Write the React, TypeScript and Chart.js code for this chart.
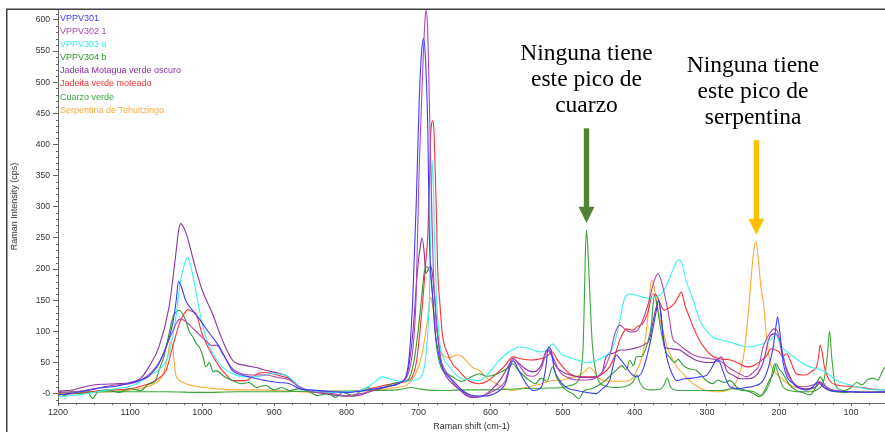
import React, { useEffect, useRef } from 'react';
import { Chart, registerables } from 'chart.js';

Chart.register(...registerables);

// ---------- DATA ----------
const seriesLabels = [
  'VPPV301',
  'VPPV302 1',
  'VPPV303 a',
  'VPPV304 b',
  'Jadeita Motagua verde oscuro',
  'Jadeita verde moteado',
  'Cuarzo verde',
  'Serpentina de Tehuitzingo',
];

const seriesColors = ['#3c3cff', '#b048b0', '#3cf0f0', '#2f9a2f', '#9030a8', '#ff3030', '#3aa83a', '#ffa838'];

// [Raman shift (cm-1), intensity (cps)]
const vppv301 = [
  [1200, -2], [1185, 0], [1170, 3], [1155, 6], [1143, 9], [1120, 12], [1097, 18], [1085, 22], [1074, 28], [1066, 38], [1060, 48], [1050, 75], [1041, 112], [1036, 150], [1033, 180], [1029, 172], [1023, 150], [1013, 133], [1004, 120], [995, 105], [986, 91], [976, 75], [967, 55], [958, 37], [945, 30], [935, 27], [912, 21], [895, 18], [879, 16], [865, 8], [850, 6], [820, 3], [800, 2], [780, 4], [760, 8], [740, 12], [725, 18], [715, 40], [708, 150], [703, 311], [699, 471], [696, 545], [693, 570], [690, 530], [687, 418], [685, 257], [680, 150], [677, 100], [673, 70], [668, 45], [662, 32], [650, 18], [639, 5], [625, -3], [610, -4], [595, 0], [580, 15], [569, 53], [560, 35], [550, 15], [541, 5], [530, 10], [523, 45], [520, 75], [516, 70], [512, 40], [504, 21], [495, 10], [481, 5], [467, 2], [454, 0], [445, 8], [435, 21], [430, 45], [426, 62], [420, 55], [412, 43], [405, 32], [398, 27], [390, 35], [380, 75], [374, 110], [370, 134], [367, 150], [364, 130], [361, 96], [356, 60], [352, 43], [342, 21], [331, 24], [320, 25], [310, 27], [301, 29], [294, 40], [287, 53], [282, 50], [278, 37], [268, 11], [257, 8], [246, 10], [235, 12], [222, 21], [214, 45], [208, 75], [204, 110], [202, 123], [199, 100], [194, 48], [188, 25], [180, 16], [170, 8], [162, 6], [154, 10], [146, 19], [140, 12], [131, 6], [120, 4], [100, 3], [80, 2], [53, 3],
];

const vppv302 = [
  [1200, 2], [1180, 3], [1160, 6], [1140, 10], [1120, 14], [1100, 16], [1085, 22], [1070, 35], [1060, 50], [1050, 75], [1041, 100], [1035, 115], [1030, 120], [1022, 115], [1013, 105], [1004, 95], [995, 85], [986, 77], [980, 78], [972, 65], [958, 40], [945, 32], [930, 30], [912, 30], [895, 26], [879, 22], [865, 10], [850, 4], [820, 0], [800, -3], [780, 0], [760, 6], [740, 12], [725, 18], [715, 30], [708, 70], [703.5, 150], [699, 364], [694, 525], [691, 600], [689.5, 615], [687.5, 590], [686, 525], [683, 364], [679.6, 203], [676, 123], [672, 80], [669, 54], [663, 38], [657, 27], [650, 15], [639, 3], [625, -5], [610, -3], [595, 5], [580, 20], [569, 57], [560, 45], [550, 30], [541, 28], [530, 40], [520, 72], [514, 60], [504, 35], [495, 27], [481, 22], [467, 22], [454, 25], [445, 35], [435, 60], [428, 95], [421, 110], [414, 104], [407, 99], [398, 100], [390, 115], [380, 150], [374, 178], [368, 193], [363, 180], [357, 150], [352, 120], [348, 91], [340, 80], [329, 70], [320, 63], [310, 59], [295, 56], [282, 53], [273, 45], [264, 37.5], [255, 32], [245, 27], [235, 35], [228, 45], [222, 75], [214, 95], [206, 104], [202, 100], [199, 86], [194, 60], [190, 37.5], [182, 20], [171, 11], [160, 12], [150, 15], [143, 19], [138, 14], [130, 8], [118, 4], [100, 3], [75, 2], [53, 3],
];

const vppv303 = [
  [1200, -5], [1180, -3], [1160, 0], [1140, 4], [1120, 8], [1100, 12], [1085, 20], [1074, 30], [1060, 38], [1046, 64], [1037, 118], [1030, 182], [1024, 210], [1020.5, 219], [1016, 205], [1009, 166], [1000, 112], [990, 75], [976, 48], [958, 32], [935, 27], [920, 28], [903, 32], [885, 30], [875, 22], [865, 11], [850, 5], [820, 2], [800, 3], [780, 5], [765, 15], [750, 27], [735, 22], [720, 20], [705, 22], [695, 30], [690, 60], [685, 150], [683, 257], [681, 375], [679.5, 340], [678, 257], [675, 150], [672, 100], [669, 70], [663, 52], [657, 43], [648, 30], [639, 24], [625, 22], [616, 21], [605, 30], [592, 48], [580, 62], [570, 70], [560, 75], [545, 72], [532, 67], [520, 72], [514, 80], [508, 72], [500, 62], [490, 58], [477, 53], [466, 50], [454, 53], [442, 60], [430, 75], [422, 110], [415, 150], [412, 158], [405, 160], [398, 158], [390, 155], [380, 153], [370, 155], [361, 163], [352, 185], [345, 205], [340, 215], [335, 210], [329, 182], [319, 150], [310, 118], [300, 100], [292, 91], [280, 86], [268, 83], [255, 78], [245, 75], [235, 76], [222, 80], [210, 88], [205, 95], [200, 85], [196, 75], [186, 65], [176, 56], [166, 48], [157.5, 43], [148, 40], [139, 37], [130, 30], [120, 21], [105, 15], [93, 11], [80, 8], [65, 6], [53, 6],
];

const vppv304 = [
  [1200, 2], [1190, -3], [1180, 4], [1170, 0], [1160, 5], [1152, -8], [1145, 3], [1130, 6], [1115, 2], [1100, 8], [1085, 5], [1075, 15], [1065, 20], [1060, 37], [1053, 60], [1046, 96], [1040, 125], [1035, 132], [1032, 134], [1027, 128], [1023, 118], [1018, 100], [1013, 91], [1008, 80], [1004, 75], [999, 60], [995, 43], [990, 50], [985, 35], [981, 37], [970, 28], [958, 21], [945, 16], [935, 18], [925, 10], [912, 13], [900, 6], [890, 10], [879, 5], [865, 8], [850, 2], [840, -3], [825, 0], [815, -6], [805, 2], [790, -4], [780, 5], [770, 10], [760, 5], [745, 12], [730, 18], [715, 22], [706, 54], [701, 96], [696, 150], [692, 195], [689, 204], [686, 200], [683, 190], [680, 150], [676, 86], [669, 43], [660, 32], [653, 27], [640, 20], [625, 28], [616, 32], [605, 28], [595, 30], [585, 35], [575, 42], [569, 48], [562, 38], [555, 30], [546, 21], [538, 16], [530, 25], [522, 20], [514, 43], [508, 25], [500, 11], [493, 4], [486, 0], [478, -8], [470, 5], [460, 8], [447, 16], [440, 22], [433, 30], [426, 37.5], [418, 45], [412, 38], [407, 53.6], [402, 45], [398, 59], [390, 60], [384, 75], [377, 110], [373, 158], [369, 140], [365, 110], [361, 86], [356, 65], [352, 59], [345, 50], [340, 55], [333, 45], [325, 40], [315, 37.5], [308, 30], [301, 21], [292, 16], [285, 22], [276, 18], [268, 21], [258, 10], [245, 5], [235, 0], [227, -5], [220, 5], [214, 20], [208, 32], [204, 48], [200, 40], [194.5, 32], [186, 15], [176, 5], [167, 2], [157, -2], [150, 8], [143, 27], [137, 15], [130, 5], [120, 3], [110, 2], [100, 3], [80, 2], [53, 3],
];

const jadeitaMotagua = [
  [1200, 4], [1180, 6], [1160, 12], [1140, 15], [1120, 16], [1100, 18], [1085, 25], [1074, 43], [1060, 75], [1046, 139], [1037, 220], [1033, 260], [1030, 273], [1025, 265], [1020, 249], [1011, 209], [1000, 166], [986, 129], [972, 86], [958, 54], [939, 45], [925, 42], [912, 37.5], [895, 33], [884, 29], [875, 20], [865, 11], [850, 4], [830, 0], [800, -4], [780, -2], [760, 6], [740, 12], [725, 18], [715, 35], [708, 96], [701, 203], [697, 240], [695, 250], [692, 225], [690, 193], [687, 198], [685, 203], [683, 205], [681, 195], [678, 161], [673.5, 96], [667, 43], [660, 25], [653, 16], [645, 8], [634, -3], [625, -6], [612, -4], [600, 5], [585, 25], [575, 45], [569, 56], [562, 50], [552, 40], [541, 35], [530, 45], [522, 70], [517, 65], [510, 45], [500, 35], [490, 30], [477, 27], [465, 26], [454, 27], [445, 35], [440, 59], [430, 65], [420, 70], [412, 70], [404, 72], [394, 75], [385, 80], [380, 86], [374, 120], [370, 140], [367, 150], [363, 120], [359, 75], [350, 72], [338, 70], [325, 60], [315, 53.6], [300, 50], [292, 50], [285, 55], [280, 59], [275, 45], [273, 37.5], [264, 30], [254, 24], [242, 24], [231, 30], [222, 50], [213, 91], [207, 96], [204, 96], [200, 86], [194.5, 59], [186, 30], [176, 11], [165, 8], [150, 10], [143, 17], [137, 10], [128, 5], [118, 3], [100, 3], [80, 2], [53, 2],
];

const jadeitaMoteado = [
  [1200, -2], [1180, 0], [1160, 2], [1140, 5], [1120, 6], [1100, 8], [1085, 12], [1070, 18], [1060, 25], [1050, 37.5], [1041, 75], [1030, 118], [1024, 130], [1020, 135], [1014, 132], [1009, 129], [1000, 96], [990, 70], [976, 43], [965, 28], [958, 21], [940, 21], [930, 27], [921, 33], [912, 34], [903, 32], [890, 28], [879, 24], [870, 16], [865, 11], [850, 5], [820, 3], [800, 3], [780, 5], [760, 10], [740, 15], [725, 18], [712, 22], [703, 50], [698, 100], [694, 150], [690, 210], [687, 257], [685, 330], [683, 418], [680, 438], [678.5, 420], [677, 364], [675, 280], [673.5, 203], [670, 140], [667, 96], [660, 65], [653, 48], [645, 38], [639, 30], [629, 20], [616, 16], [605, 20], [592, 32], [580, 45], [569, 59], [558, 56], [545, 54], [535, 55], [523, 59], [514, 67], [508, 55], [500, 43], [490, 32], [477, 27], [465, 27], [454, 27], [445, 32], [435, 43], [428, 60], [421, 86], [415, 100], [412, 104], [403, 102], [396, 108], [389, 112.5], [382, 130], [375, 160], [370, 158], [365, 145], [359, 134], [352, 138], [345, 145], [340, 155], [335.6, 163], [330, 140], [325, 125], [319, 107], [310, 85], [301, 70], [292, 60], [282, 56], [273, 55], [264, 53], [255, 48], [245, 43], [235, 45], [227, 51], [218, 60], [211, 72], [205, 70], [200, 67], [195, 60], [189, 64], [185, 55], [176, 32], [168, 30], [162, 30], [155, 36], [148, 43], [145, 60], [143, 78], [140, 65], [137, 43], [130, 21], [120, 14], [105, 12], [93, 11], [80, 9], [65, 7], [53, 6],
];

const cuarzoVerde = [
  [1200, 2], [1150, 3], [1100, 3], [1050, 3], [1000, 2], [950, 3], [900, 3], [850, 4], [800, 4], [760, 5], [730, 6], [710, 10], [700, 8], [690, 6], [670, 5], [640, 6], [600, 6], [560, 8], [520, 9], [500, 10], [490, 13], [479, 20], [474, 40], [471.5, 80], [470, 150], [468.5, 230], [467, 262], [465, 230], [462, 150], [459, 80], [455, 40], [450, 20], [440, 12], [425, 10], [412, 12], [403, 18], [397, 30], [393, 18], [386, 8], [375, 6], [365, 7], [359, 15], [355, 25], [351, 12], [345, 6], [330, 5], [300, 5], [280, 5], [265, 8], [250, 5], [235, 3], [225, -3], [218, 5], [212, 20], [206, 48], [202, 35], [195, 12], [185, 5], [170, 3], [155, 3], [145, 8], [138, 20], [133, 60], [130, 100], [127, 60], [123, 20], [118, 8], [110, 5], [100, 10], [92, 18], [85, 14], [78, 22], [70, 25], [63, 22], [57, 35], [53, 43],
];

const serpentina = [
  [1200, 0], [1180, 0], [1150, 2], [1120, 4], [1100, 6], [1080, 10], [1070, 14], [1060, 21], [1053, 35], [1048, 60], [1044, 83], [1041, 75], [1037, 32], [1030, 20], [1023, 16], [1004, 11], [980, 8], [958, 6], [920, 6], [900, 5], [865, 3], [840, 2], [800, 3], [760, 6], [730, 10], [715, 15], [705, 30], [698, 50], [694, 70], [690, 100], [687, 123], [685, 145], [683, 155], [681, 145], [678, 123], [674, 95], [671, 75], [666, 62], [662, 59], [655, 58], [648, 62], [640, 60], [634, 53], [625, 42], [616, 37.5], [605, 25], [592, 16], [580, 8], [569, 5], [558, 8], [546, 11], [530, 16], [514, 21], [500, 22], [490, 25], [480, 28], [470, 35], [463, 42], [458, 38], [452, 28], [444, 21], [430, 20], [415, 20], [407, 21], [398, 35], [389, 64], [383, 110], [380, 150], [377, 182], [374, 175], [370, 150], [366, 125], [361, 102], [355, 75], [347, 53.6], [338, 38], [329, 27], [318, 15], [301, 5], [282, 3], [272, 5], [264, 11], [257, 25], [250, 53.6], [245, 100], [241, 150], [236, 220], [232, 245], [229, 220], [225, 170], [222, 150], [218, 100], [213, 53.6], [206, 35], [199, 27], [190, 18], [181, 12], [170, 8], [162, 6], [150, 10], [143, 19], [138, 10], [130, 5], [110, 3], [80, 3], [53, 3],
];

const seriesData = [vppv301, vppv302, vppv303, vppv304, jadeitaMotagua, jadeitaMoteado, cuarzoVerde, serpentina];

const xTickStep = 100;
const yTickStep = 50;
const xMin = 53;
const xMax = 1200;
const yMin = -15;
const yMax = 616;

// annotation anchors in data units
const annotCuarzo = { shift: 467, lines: ['Ninguna tiene', 'este pico de', 'cuarzo'], textTop: 535, arrowTop: 426, headBase: 300, tip: 274, color: '#548235' };
const annotSerpentina = { shift: 236, arrowShift: 231.4, lines: ['Ninguna tiene', 'este pico de', 'serpentina'], textTop: 517, arrowTop: 407, headBase: 281, tip: 255, color: '#ffc000' };

const SANS = '"Liberation Sans", Arial, sans-serif';
const SERIF = '"Liberation Serif", "Times New Roman", serif';

const overlayPlugin = {
  id: 'overlay',
  afterDraw(chart: any) {
    const { ctx, chartArea, scales } = chart;
    const xs = scales.x;
    const ys = scales.y;
    ctx.save();

    // minor ticks
    ctx.strokeStyle = '#666';
    ctx.lineWidth = 1;
    ctx.beginPath();
    for (let v = 0; v <= xMax; v += 25) {
      if (v % 100 === 0 || v < xMin) continue;
      const px = Math.round(xs.getPixelForValue(v)) + 0.5;
      ctx.moveTo(px, chartArea.bottom);
      ctx.lineTo(px, chartArea.bottom + 2);
    }
    for (let v = -10; v <= 610; v += 10) {
      if (v % 50 === 0) continue;
      const py = Math.round(ys.getPixelForValue(v)) + 0.5;
      ctx.moveTo(chartArea.left - 2, py);
      ctx.lineTo(chartArea.left, py);
    }
    ctx.stroke();

    // legend as coloured text
    ctx.font = `9px ${SANS}`;
    ctx.textAlign = 'left';
    ctx.textBaseline = 'middle';
    chart.data.datasets.forEach((ds: any, i: number) => {
      ctx.fillStyle = ds.borderColor;
      ctx.fillText(ds.label, chartArea.left + 2, chartArea.top + 8.5 + i * 13.1);
    });

    // annotations
    const drawAnnot = (a: any) => {
      const cx = xs.getPixelForValue(a.shift);
      const ax = xs.getPixelForValue(a.arrowShift ?? a.shift);
      ctx.fillStyle = '#000';
      ctx.font = `23.5px ${SERIF}`;
      ctx.textAlign = 'center';
      ctx.textBaseline = 'alphabetic';
      const y0 = ys.getPixelForValue(a.textTop);
      a.lines.forEach((t: string, i: number) => ctx.fillText(t, cx, y0 + i * 26));
      const yTop = ys.getPixelForValue(a.arrowTop);
      const yBase = ys.getPixelForValue(a.headBase);
      const yTip = ys.getPixelForValue(a.tip);
      ctx.fillStyle = a.color;
      ctx.fillRect(ax - 2.7, yTop, 5.4, yBase - yTop + 1);
      ctx.beginPath();
      ctx.moveTo(ax - 8, yBase);
      ctx.lineTo(ax + 8, yBase);
      ctx.lineTo(ax, yTip);
      ctx.closePath();
      ctx.fill();
    };
    drawAnnot(annotCuarzo);
    drawAnnot(annotSerpentina);

    // outer frame
    ctx.strokeStyle = '#404040';
    ctx.lineWidth = 1.5;
    ctx.beginPath();
    ctx.moveTo(6.75, 440);
    ctx.lineTo(6.75, 9.25);
    ctx.lineTo(890, 9.25);
    ctx.stroke();
    ctx.restore();
  },
};

export default function App() {
  const canvasRef = useRef<HTMLCanvasElement | null>(null);

  useEffect(() => {
    const canvas = canvasRef.current;
    if (!canvas) return;
    const chart = new Chart(canvas, {
      type: 'line',
      data: {
        datasets: seriesData.map((pts, i) => ({
          label: seriesLabels[i],
          data: pts.map(([x, y]) => ({ x, y })),
          borderColor: seriesColors[i],
          backgroundColor: seriesColors[i],
          borderWidth: 1.1,
          pointRadius: 0,
          fill: false,
          cubicInterpolationMode: 'monotone' as const,
        })),
      },
      options: {
        animation: false,
        responsive: false,
        events: [],
        layout: { padding: { left: 0, top: 10, right: 0, bottom: 0 } },
        plugins: { legend: { display: false }, tooltip: { enabled: false } },
        scales: {
          x: {
            type: 'linear',
            reverse: true,
            min: xMin,
            max: xMax,
            afterFit: (s: any) => { s.height = 29; },
            border: { display: true, color: '#666', width: 1 },
            grid: { drawOnChartArea: false, tickLength: 3, color: '#666' },
            ticks: {
              stepSize: xTickStep,
              includeBounds: false,
              autoSkip: false,
              maxRotation: 0,
              padding: 1.5,
              color: '#333',
              font: { family: SANS, size: 9 },
              callback: (v: any) => String(v),
            },
            title: { display: true, text: 'Raman shift (cm-1)', color: '#333', font: { family: SANS, size: 9 }, padding: { top: 0, bottom: 0 } },
          },
          y: {
            type: 'linear',
            min: yMin,
            max: yMax,
            afterFit: (s: any) => { s.width = 58; },
            border: { display: true, color: '#666', width: 1 },
            grid: { drawOnChartArea: false, tickLength: 5, color: '#666' },
            ticks: {
              stepSize: yTickStep,
              includeBounds: false,
              padding: 3,
              color: '#333',
              font: { family: SANS, size: 8.5 },
              callback: (v: any) => (Number(v) === 0 ? '-0' : String(v)),
            },
            title: { display: true, text: 'Raman Intensity (cps)', color: '#333', font: { family: SANS, size: 9 }, padding: { top: 9.6, bottom: 0 } },
          },
        },
      },
      plugins: [overlayPlugin],
    });
    return () => chart.destroy();
  }, []);

  return (
    <div style={{ position: 'fixed', left: 0, top: 0, width: 885, height: 432, background: '#fff' }}>
      <canvas ref={canvasRef} width={885} height={432} style={{ display: 'block' }} />
    </div>
  );
}
